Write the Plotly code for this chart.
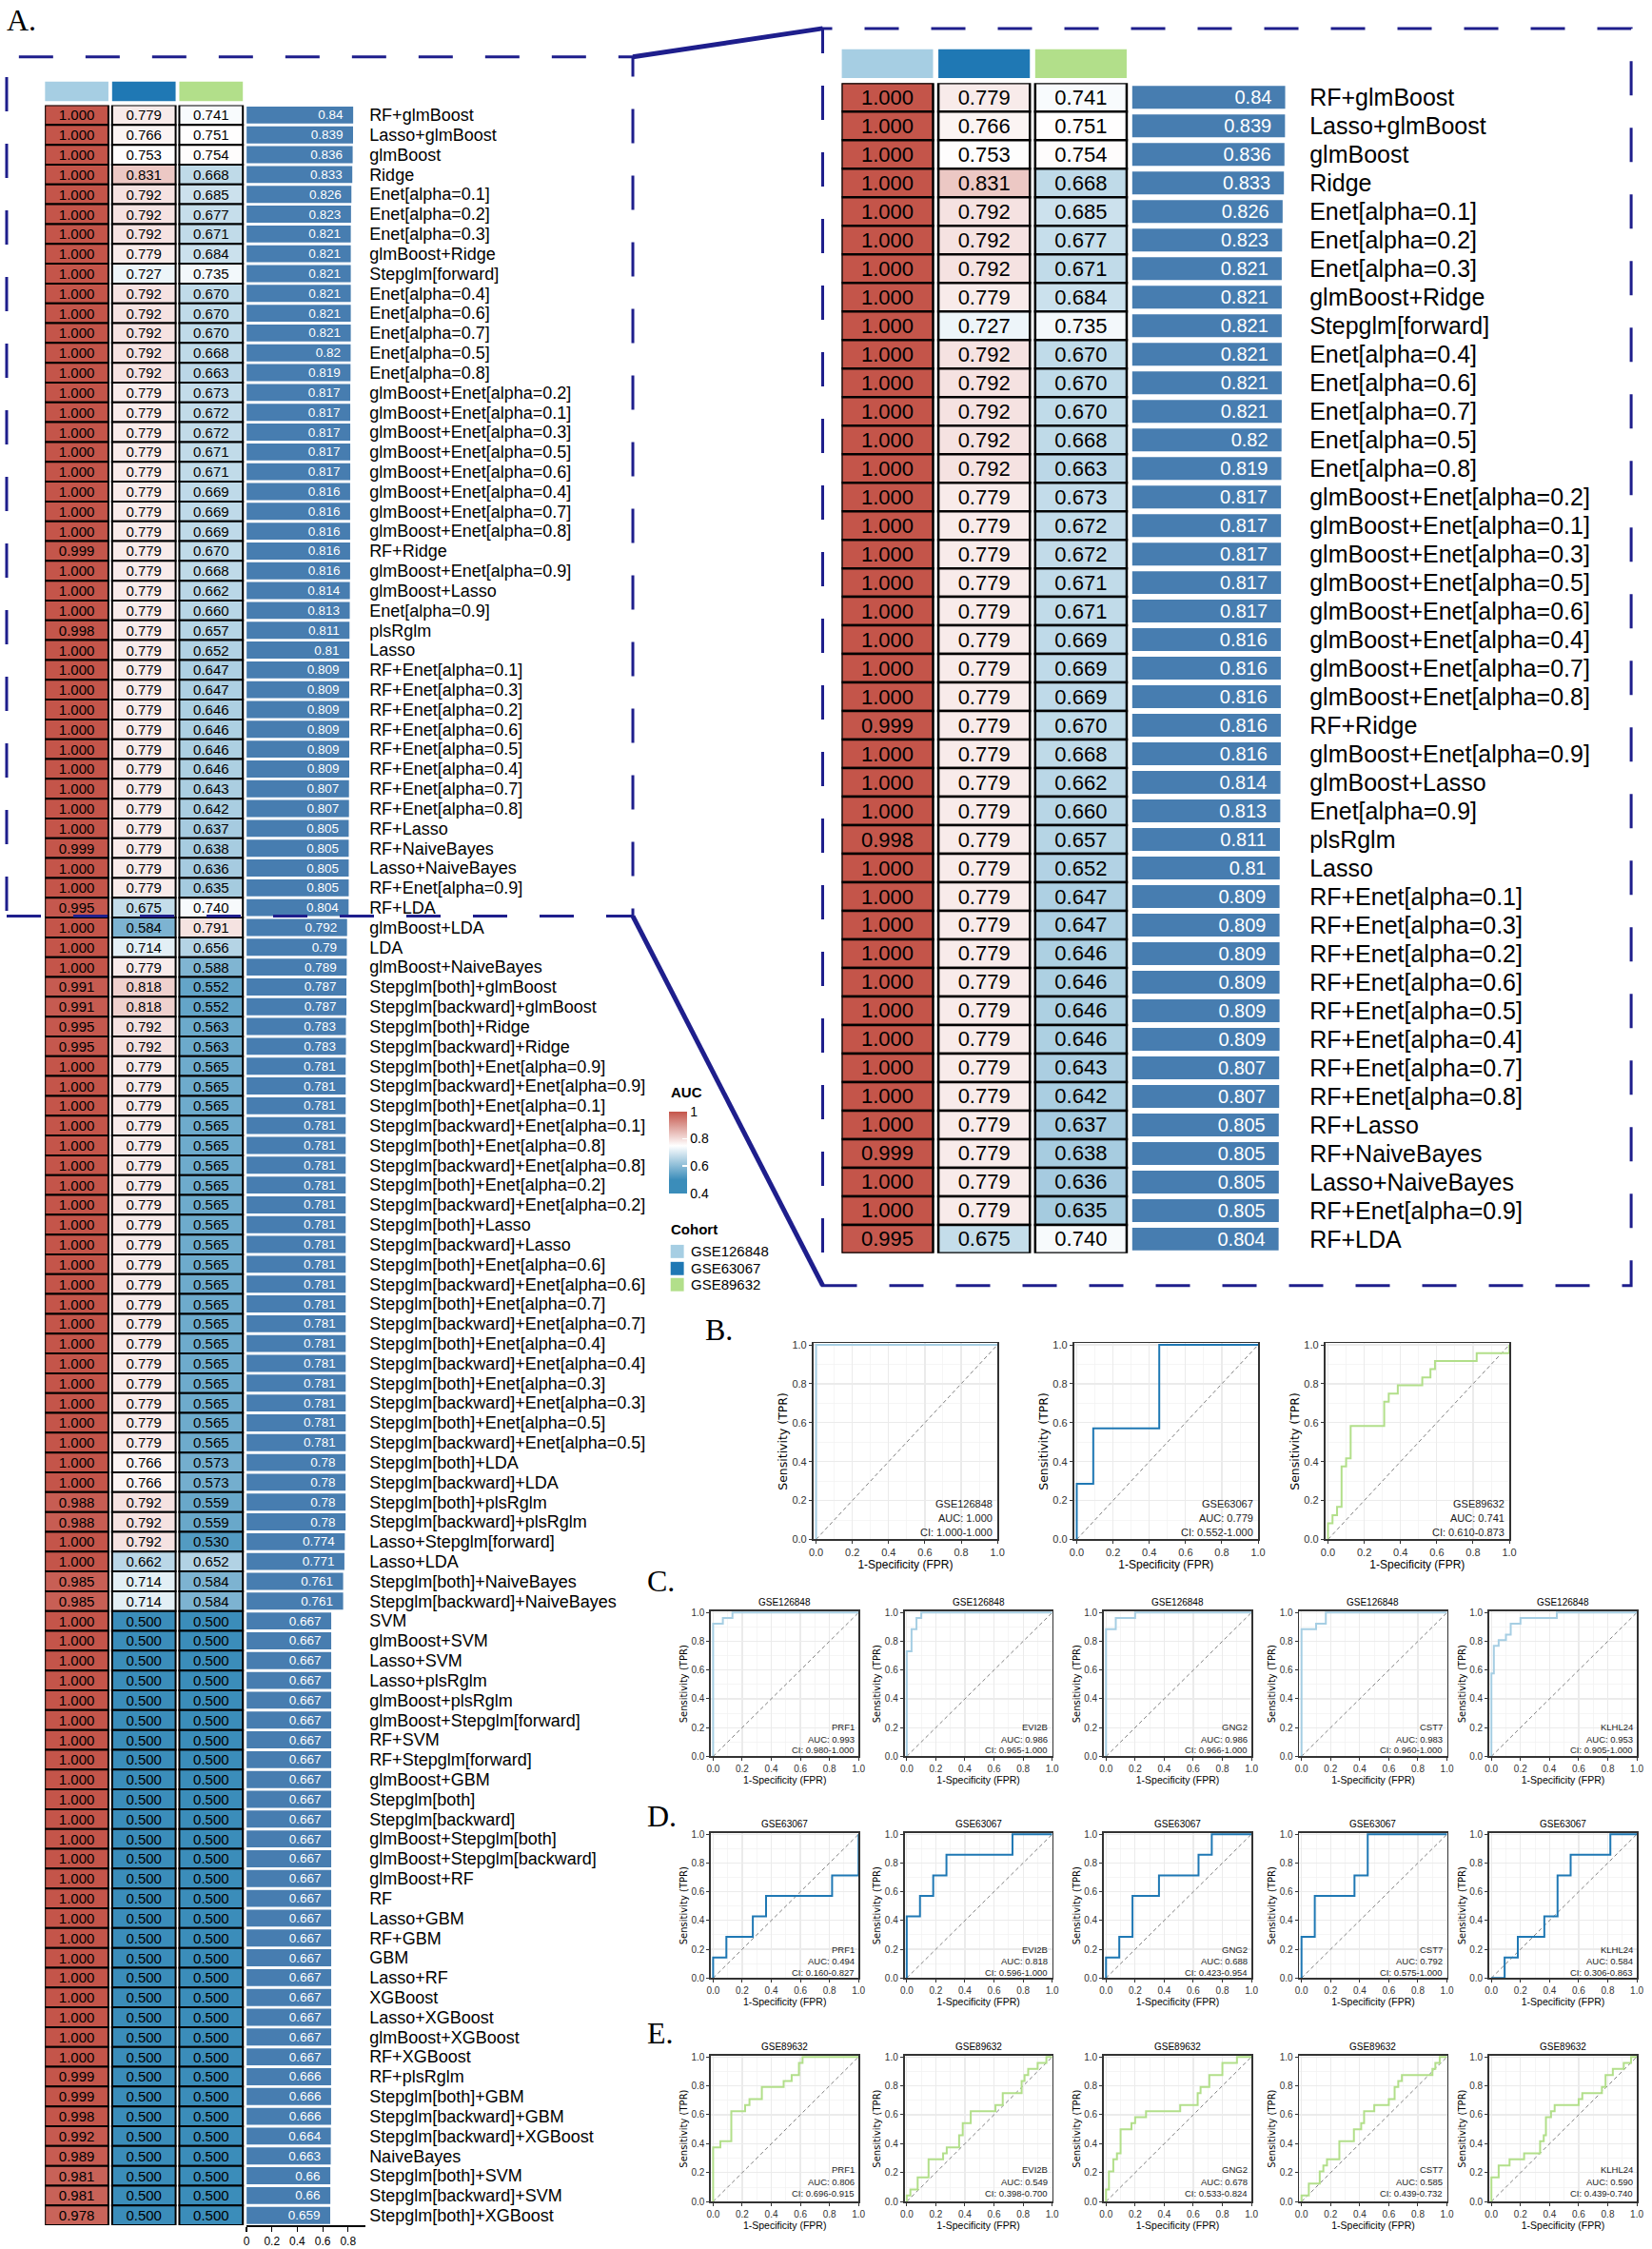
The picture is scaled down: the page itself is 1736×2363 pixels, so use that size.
import plotly.graph_objects as go

W, H = 1736, 2363
FONT = "Liberation Sans, Arial, sans-serif"
WIDE = "DejaVu Sans, Verdana, sans-serif"
SERIF = "Liberation Serif, Times New Roman, serif"
NAVY = "#1E1E8C"
BAR_COLOR = "#477DB0"
PAD = "\u00a0\u00a0"

# ---------------- data: heatmap of AUCs ----------------
methods = [
    "RF+glmBoost", "Lasso+glmBoost", "glmBoost", "Ridge", "Enet[alpha=0.1]", "Enet[alpha=0.2]",
    "Enet[alpha=0.3]", "glmBoost+Ridge", "Stepglm[forward]", "Enet[alpha=0.4]", "Enet[alpha=0.6]",
    "Enet[alpha=0.7]", "Enet[alpha=0.5]", "Enet[alpha=0.8]",
    "glmBoost+Enet[alpha=0.2]", "glmBoost+Enet[alpha=0.1]", "glmBoost+Enet[alpha=0.3]",
    "glmBoost+Enet[alpha=0.5]", "glmBoost+Enet[alpha=0.6]", "glmBoost+Enet[alpha=0.4]",
    "glmBoost+Enet[alpha=0.7]", "glmBoost+Enet[alpha=0.8]", "RF+Ridge", "glmBoost+Enet[alpha=0.9]",
    "glmBoost+Lasso", "Enet[alpha=0.9]", "plsRglm", "Lasso",
    "RF+Enet[alpha=0.1]", "RF+Enet[alpha=0.3]", "RF+Enet[alpha=0.2]", "RF+Enet[alpha=0.6]",
    "RF+Enet[alpha=0.5]", "RF+Enet[alpha=0.4]", "RF+Enet[alpha=0.7]", "RF+Enet[alpha=0.8]",
    "RF+Lasso", "RF+NaiveBayes", "Lasso+NaiveBayes", "RF+Enet[alpha=0.9]", "RF+LDA",
    "glmBoost+LDA", "LDA", "glmBoost+NaiveBayes", "Stepglm[both]+glmBoost",
    "Stepglm[backward]+glmBoost", "Stepglm[both]+Ridge", "Stepglm[backward]+Ridge",
    "Stepglm[both]+Enet[alpha=0.9]", "Stepglm[backward]+Enet[alpha=0.9]",
    "Stepglm[both]+Enet[alpha=0.1]", "Stepglm[backward]+Enet[alpha=0.1]",
    "Stepglm[both]+Enet[alpha=0.8]", "Stepglm[backward]+Enet[alpha=0.8]",
    "Stepglm[both]+Enet[alpha=0.2]", "Stepglm[backward]+Enet[alpha=0.2]",
    "Stepglm[both]+Lasso", "Stepglm[backward]+Lasso",
    "Stepglm[both]+Enet[alpha=0.6]", "Stepglm[backward]+Enet[alpha=0.6]",
    "Stepglm[both]+Enet[alpha=0.7]", "Stepglm[backward]+Enet[alpha=0.7]",
    "Stepglm[both]+Enet[alpha=0.4]", "Stepglm[backward]+Enet[alpha=0.4]",
    "Stepglm[both]+Enet[alpha=0.3]", "Stepglm[backward]+Enet[alpha=0.3]",
    "Stepglm[both]+Enet[alpha=0.5]", "Stepglm[backward]+Enet[alpha=0.5]",
    "Stepglm[both]+LDA", "Stepglm[backward]+LDA", "Stepglm[both]+plsRglm",
    "Stepglm[backward]+plsRglm", "Lasso+Stepglm[forward]", "Lasso+LDA",
    "Stepglm[both]+NaiveBayes", "Stepglm[backward]+NaiveBayes",
    "SVM", "glmBoost+SVM", "Lasso+SVM", "Lasso+plsRglm", "glmBoost+plsRglm",
    "glmBoost+Stepglm[forward]", "RF+SVM", "RF+Stepglm[forward]", "glmBoost+GBM",
    "Stepglm[both]", "Stepglm[backward]", "glmBoost+Stepglm[both]", "glmBoost+Stepglm[backward]",
    "glmBoost+RF", "RF", "Lasso+GBM", "RF+GBM", "GBM", "Lasso+RF", "XGBoost", "Lasso+XGBoost",
    "glmBoost+XGBoost", "RF+XGBoost", "RF+plsRglm", "Stepglm[both]+GBM", "Stepglm[backward]+GBM",
    "Stepglm[backward]+XGBoost", "NaiveBayes", "Stepglm[both]+SVM", "Stepglm[backward]+SVM",
    "Stepglm[both]+XGBoost",
]

auc_gse126848 = [
    1.000, 1.000, 1.000, 1.000, 1.000, 1.000, 1.000, 1.000, 1.000, 1.000,
    1.000, 1.000, 1.000, 1.000, 1.000, 1.000, 1.000, 1.000, 1.000, 1.000,
    1.000, 1.000, 0.999, 1.000, 1.000, 1.000, 0.998, 1.000, 1.000, 1.000,
    1.000, 1.000, 1.000, 1.000, 1.000, 1.000, 1.000, 0.999, 1.000, 1.000,
    0.995, 1.000, 1.000, 1.000, 0.991, 0.991, 0.995, 0.995, 1.000, 1.000,
    1.000, 1.000, 1.000, 1.000, 1.000, 1.000, 1.000, 1.000, 1.000, 1.000,
    1.000, 1.000, 1.000, 1.000, 1.000, 1.000, 1.000, 1.000, 1.000, 1.000,
    0.988, 0.988, 1.000, 1.000, 0.985, 0.985, 1.000, 1.000, 1.000, 1.000,
    1.000, 1.000, 1.000, 1.000, 1.000, 1.000, 1.000, 1.000, 1.000, 1.000,
    1.000, 1.000, 1.000, 1.000, 1.000, 1.000, 1.000, 1.000, 1.000, 0.999,
    0.999, 0.998, 0.992, 0.989, 0.981, 0.981, 0.978,
]

auc_gse63067 = [
    0.779, 0.766, 0.753, 0.831, 0.792, 0.792, 0.792, 0.779, 0.727, 0.792,
    0.792, 0.792, 0.792, 0.792, 0.779, 0.779, 0.779, 0.779, 0.779, 0.779,
    0.779, 0.779, 0.779, 0.779, 0.779, 0.779, 0.779, 0.779, 0.779, 0.779,
    0.779, 0.779, 0.779, 0.779, 0.779, 0.779, 0.779, 0.779, 0.779, 0.779,
    0.675, 0.584, 0.714, 0.779, 0.818, 0.818, 0.792, 0.792, 0.779, 0.779,
    0.779, 0.779, 0.779, 0.779, 0.779, 0.779, 0.779, 0.779, 0.779, 0.779,
    0.779, 0.779, 0.779, 0.779, 0.779, 0.779, 0.779, 0.779, 0.766, 0.766,
    0.792, 0.792, 0.792, 0.662, 0.714, 0.714, 0.500, 0.500, 0.500, 0.500,
    0.500, 0.500, 0.500, 0.500, 0.500, 0.500, 0.500, 0.500, 0.500, 0.500,
    0.500, 0.500, 0.500, 0.500, 0.500, 0.500, 0.500, 0.500, 0.500, 0.500,
    0.500, 0.500, 0.500, 0.500, 0.500, 0.500, 0.500,
]

auc_gse89632 = [
    0.741, 0.751, 0.754, 0.668, 0.685, 0.677, 0.671, 0.684, 0.735, 0.670,
    0.670, 0.670, 0.668, 0.663, 0.673, 0.672, 0.672, 0.671, 0.671, 0.669,
    0.669, 0.669, 0.670, 0.668, 0.662, 0.660, 0.657, 0.652, 0.647, 0.647,
    0.646, 0.646, 0.646, 0.646, 0.643, 0.642, 0.637, 0.638, 0.636, 0.635,
    0.740, 0.791, 0.656, 0.588, 0.552, 0.552, 0.563, 0.563, 0.565, 0.565,
    0.565, 0.565, 0.565, 0.565, 0.565, 0.565, 0.565, 0.565, 0.565, 0.565,
    0.565, 0.565, 0.565, 0.565, 0.565, 0.565, 0.565, 0.565, 0.573, 0.573,
    0.559, 0.559, 0.530, 0.652, 0.584, 0.584, 0.500, 0.500, 0.500, 0.500,
    0.500, 0.500, 0.500, 0.500, 0.500, 0.500, 0.500, 0.500, 0.500, 0.500,
    0.500, 0.500, 0.500, 0.500, 0.500, 0.500, 0.500, 0.500, 0.500, 0.500,
    0.500, 0.500, 0.500, 0.500, 0.500, 0.500, 0.500,
]

mean_auc = [
    0.84, 0.839, 0.836, 0.833, 0.826, 0.823, 0.821, 0.821, 0.821, 0.821,
    0.821, 0.821, 0.82, 0.819, 0.817, 0.817, 0.817, 0.817, 0.817, 0.816,
    0.816, 0.816, 0.816, 0.816, 0.814, 0.813, 0.811, 0.81, 0.809, 0.809,
    0.809, 0.809, 0.809, 0.809, 0.807, 0.807, 0.805, 0.805, 0.805, 0.805,
    0.804, 0.792, 0.79, 0.789, 0.787, 0.787, 0.783, 0.783, 0.781, 0.781,
    0.781, 0.781, 0.781, 0.781, 0.781, 0.781, 0.781, 0.781, 0.781, 0.781,
    0.781, 0.781, 0.781, 0.781, 0.781, 0.781, 0.781, 0.781, 0.78, 0.78,
    0.78, 0.78, 0.774, 0.771, 0.761, 0.761, 0.667, 0.667, 0.667, 0.667,
    0.667, 0.667, 0.667, 0.667, 0.667, 0.667, 0.667, 0.667, 0.667, 0.667,
    0.667, 0.667, 0.667, 0.667, 0.667, 0.667, 0.667, 0.667, 0.667, 0.666,
    0.666, 0.666, 0.664, 0.663, 0.66, 0.66, 0.659,
]

cohort_names = ["GSE126848", "GSE63067", "GSE89632"]
cohort_colors = ["#A6CEE3", "#1F78B4", "#B2DF8A"]
n_zoom_rows = 41

# ---------------- data: ROC curves (corner points, step 'hv') ----------------
b1_fpr = [0, 0, 1]
b1_tpr = [0, 1, 1]
b2_fpr = [0, 0, 0.091, 0.455, 1]
b2_tpr = [0, 0.286, 0.571, 1, 1]
b3_fpr = [0, 0, 0.025, 0.05, 0.075, 0.1, 0.125, 0.31, 0.335, 0.385, 0.52, 0.565, 0.59, 0.82, 1]
b3_tpr = [0, 0.083, 0.125, 0.167, 0.375, 0.417, 0.583, 0.708, 0.75, 0.792, 0.833, 0.875, 0.917, 0.958, 1]

c1_fpr = [0, 0, 0.067, 0.133, 1]
c1_tpr = [0, 0.923, 0.962, 1, 1]
c2_fpr = [0, 0, 0.033, 0.067, 0.1, 1]
c2_tpr = [0, 0.731, 0.885, 0.962, 1, 1]
c3_fpr = [0, 0, 0.067, 0.2, 1]
c3_tpr = [0, 0.885, 0.962, 1, 1]
c4_fpr = [0, 0, 0.1, 0.167, 1]
c4_tpr = [0, 0.885, 0.923, 1, 1]
c5_fpr = [0, 0, 0.017, 0.05, 0.1, 0.133, 0.2, 0.45, 1]
c5_tpr = [0, 0.577, 0.769, 0.808, 0.846, 0.923, 0.962, 1, 1]

d1_fpr = [0, 0, 0.091, 0.273, 0.364, 0.818, 1]
d1_tpr = [0, 0.143, 0.286, 0.429, 0.571, 0.714, 1]
d2_fpr = [0, 0, 0.091, 0.182, 0.273, 0.727, 1]
d2_tpr = [0, 0.429, 0.571, 0.714, 0.857, 1, 1]
d3_fpr = [0, 0, 0.091, 0.182, 0.364, 0.636, 0.727, 1]
d3_tpr = [0, 0.143, 0.286, 0.571, 0.714, 0.857, 1, 1]
d4_fpr = [0, 0, 0.091, 0.364, 0.455, 1]
d4_tpr = [0, 0.286, 0.571, 0.714, 1, 1]
d5_fpr = [0, 0.091, 0.182, 0.364, 0.455, 0.545, 0.818, 1]
d5_tpr = [0, 0.143, 0.286, 0.429, 0.714, 0.857, 1, 1]

e1_fpr = [0, 0, 0.05, 0.125, 0.22, 0.25, 0.335, 0.485, 0.54, 0.59, 0.615, 1]
e1_tpr = [0, 0.375, 0.417, 0.625, 0.667, 0.708, 0.792, 0.833, 0.875, 0.958, 1, 1]
e2_fpr = [0, 0, 0.025, 0.075, 0.15, 0.25, 0.275, 0.36, 0.385, 0.44, 0.61, 0.66, 0.79, 0.81, 0.835, 0.9, 0.96, 1]
e2_tpr = [0, 0.042, 0.083, 0.167, 0.292, 0.333, 0.375, 0.458, 0.542, 0.625, 0.667, 0.75, 0.833, 0.875, 0.917, 0.958, 1, 1]
e3_fpr = [0, 0, 0.02, 0.05, 0.075, 0.1, 0.175, 0.2, 0.275, 0.51, 0.63, 0.65, 0.71, 0.8, 0.9, 1]
e3_tpr = [0, 0.083, 0.208, 0.292, 0.333, 0.5, 0.542, 0.583, 0.625, 0.667, 0.75, 0.792, 0.875, 0.958, 1, 1]
e4_fpr = [0, 0, 0.05, 0.125, 0.15, 0.175, 0.26, 0.36, 0.41, 0.43, 0.5, 0.6, 0.64, 0.665, 0.69, 0.9, 0.92, 0.95, 1]
e4_tpr = [0, 0.042, 0.125, 0.208, 0.25, 0.292, 0.417, 0.5, 0.542, 0.625, 0.667, 0.708, 0.792, 0.833, 0.875, 0.917, 0.958, 1, 1]
e5_fpr = [0, 0, 0.05, 0.125, 0.225, 0.335, 0.36, 0.375, 0.41, 0.435, 0.6, 0.625, 0.76, 0.785, 0.835, 0.91, 0.96, 1]
e5_tpr = [0, 0.167, 0.25, 0.292, 0.333, 0.417, 0.458, 0.583, 0.625, 0.667, 0.708, 0.75, 0.792, 0.875, 0.917, 0.958, 1, 1]

b_names = ["GSE126848", "GSE63067", "GSE89632"]
b_auc = ["1.000", "0.779", "0.741"]
b_ci = ["1.000-1.000", "0.552-1.000", "0.610-0.873"]
genes = ["PRF1", "EVI2B", "GNG2", "CST7", "KLHL24"]
c_auc = ["0.993", "0.986", "0.986", "0.983", "0.953"]
c_ci = ["0.980-1.000", "0.965-1.000", "0.966-1.000", "0.960-1.000", "0.905-1.000"]
d_auc = ["0.494", "0.818", "0.688", "0.792", "0.584"]
d_ci = ["0.160-0.827", "0.596-1.000", "0.423-0.954", "0.575-1.000", "0.306-0.863"]
e_auc = ["0.806", "0.549", "0.678", "0.585", "0.590"]
e_ci = ["0.696-0.915", "0.398-0.700", "0.533-0.824", "0.439-0.732", "0.439-0.740"]


# ---------------- helpers ----------------
def X(p):
    return p / W


def Y(p):
    return 1 - p / H


def sfx(n):
    return "" if n == 1 else str(n)


AUC_SCALE = [[0.0, "#3B8DBA"], [(0.5 - 0.4) / 0.6, "#3B8DBA"],
             [(0.75 - 0.4) / 0.6, "#FFFFFF"], [1.0, "#C4554A"]]

fig = go.Figure()
layout = {}
annotations = []
shapes = []

colorbar_cfg = dict(
    x=X(703), xanchor="left", xpad=0, y=Y(1211.5), yanchor="middle", ypad=0,
    lenmode="pixels", len=86, thicknessmode="pixels", thickness=19, outlinewidth=0,
    tickmode="array", tickvals=[0.4, 0.6, 0.8, 1.0], ticktext=["0.4", "0.6", "0.8", "1"],
    ticks="inside", ticklen=5, tickwidth=1.5, tickcolor="white",
    tickfont=dict(family=FONT, size=14, color="black"),
)


def heat_panel(ic, ib, ir, ico, names, cols, means, cx0, cx1, bx1, ry0, ry1, cy0, cy1,
               cell_font, bar_font, label_font, border_w, bar_w, bar_max, show_axis, show_scale):
    xc, xb, yr, yc = "x" + sfx(ic), "x" + sfx(ib), "y" + sfx(ir), "y" + sfx(ico)
    n = len(names)
    for j in range(3):
        vals = cols[j]
        marker = dict(color=vals, colorscale=AUC_SCALE, cmin=0.4, cmax=1.0,
                      line=dict(color="black", width=border_w))
        if show_scale and j == 0:
            marker["showscale"] = True
            marker["colorbar"] = colorbar_cfg
        fig.add_trace(go.Bar(
            y=names, x=[0.945] * n, base=[j] * n, orientation="h", width=1.0,
            marker=marker, text=[f"{v:.3f}" for v in vals],
            textposition="inside", insidetextanchor="middle", textangle=0, constraintext="none",
            textfont=dict(family=FONT, size=cell_font, color="black"),
            xaxis=xc, yaxis=yr, hoverinfo="skip", showlegend=False))
        fig.add_trace(go.Bar(
            y=["cohort"], x=[0.945], base=[j], orientation="h", width=1.0,
            marker=dict(color=cohort_colors[j], line=dict(width=0)),
            xaxis=xc, yaxis=yc, hoverinfo="skip", showlegend=False))
    fig.add_trace(go.Bar(
        y=names, x=means, orientation="h", width=bar_w,
        marker=dict(color=BAR_COLOR, line=dict(width=0)),
        text=[f"{v:g}" + PAD for v in means], textposition="inside", insidetextanchor="end",
        textangle=0, constraintext="none",
        textfont=dict(family=FONT, size=bar_font, color="white"),
        xaxis=xb, yaxis=yr, hoverinfo="skip", showlegend=False))

    layout["xaxis" + sfx(ic)] = dict(domain=[X(cx0), X(cx1)], range=[0, 3], visible=False,
                                      anchor=yr, fixedrange=True)
    xb_cfg = dict(domain=[X(cx1), X(bx1)], range=[0, bar_max], anchor=yr, showgrid=False,
                  zeroline=False, fixedrange=True)
    if show_axis:
        xb_cfg.update(showline=True, linecolor="black", linewidth=1.5, ticks="outside",
                      ticklen=5, tickwidth=1.2, tickcolor="black",
                      tickmode="array", tickvals=[0, 0.2, 0.4, 0.6, 0.8],
                      ticktext=["0", "0.2", "0.4", "0.6", "0.8"],
                      tickfont=dict(family=FONT, size=12, color="black"))
    else:
        xb_cfg.update(visible=False)
    layout["xaxis" + sfx(ib)] = xb_cfg
    layout["yaxis" + sfx(ir)] = dict(
        domain=[Y(ry1), Y(ry0)], type="category", categoryorder="array", categoryarray=names,
        range=[n - 0.5, -0.5], anchor=xb, side="right", showgrid=False, zeroline=False,
        showline=False, ticks="", tickmode="linear", tick0=0, dtick=1, ticklabelstandoff=3,
        tickfont=dict(family=FONT, size=label_font, color="black"), fixedrange=True)
    layout["yaxis" + sfx(ico)] = dict(domain=[Y(cy1), Y(cy0)], type="category",
                                       range=[-0.5, 0.5], visible=False, anchor=xc,
                                       fixedrange=True)


# left full panel
heat_panel(1, 2, 1, 2, methods, [auc_gse126848, auc_gse63067, auc_gse89632], mean_auc,
           42.5, 256, 382, 106, 2344, 81, 102,
           cell_font=15, bar_font=13.5, label_font=18, border_w=2, bar_w=0.86,
           bar_max=0.9375, show_axis=True, show_scale=True)

# right zoomed panel
heat_panel(3, 4, 3, 4, methods[:n_zoom_rows],
           [auc_gse126848[:n_zoom_rows], auc_gse63067[:n_zoom_rows], auc_gse89632[:n_zoom_rows]],
           mean_auc[:n_zoom_rows],
           886, 1193.5, 1377.5, 82.7, 1318, 46.7, 77.3,
           cell_font=22, bar_font=20, label_font=25, border_w=2.5, bar_w=0.8,
           bar_max=0.953, show_axis=False, show_scale=False)


# ---------------- ROC panels ----------------
def roc_panel(k, x0, width, top, bottom, fpr, tpr, color, lines, ann_y, title,
              tick_size, title_size, ytitle_size, ann_size):
    xa, ya = "x" + str(k), "y" + str(k)
    fig.add_trace(go.Scatter(x=[0, 1], y=[0, 1], mode="lines",
                             line=dict(color="#7F7F7F", width=1, dash="4px,3px"),
                             xaxis=xa, yaxis=ya, hoverinfo="skip", showlegend=False))
    fig.add_trace(go.Scatter(x=fpr, y=tpr, mode="lines",
                             line=dict(color=color, width=2, shape="hv"),
                             xaxis=xa, yaxis=ya, hoverinfo="skip", showlegend=False))
    common = dict(showgrid=True, gridcolor="#EBEBEB", gridwidth=1.2,
                  minor=dict(dtick=0.1, tick0=0, showgrid=True, gridcolor="#F3F3F3", gridwidth=0.8),
                  tick0=0, dtick=0.2, tickformat=".1f", zeroline=False, showline=True, mirror=True,
                  linecolor="#333333", linewidth=1.8, ticks="outside", ticklen=3, tickwidth=1,
                  tickcolor="#333333", tickfont=dict(family=FONT, size=tick_size, color="#333333"),
                  fixedrange=True)
    layout["xaxis" + str(k)] = dict(domain=[X(x0 - 0.015 * width), X(x0 + width)],
                                    range=[-0.015, 1.0], anchor=ya,
                                    title=dict(text="1-Specificity (FPR)", standoff=2,
                                               font=dict(family=FONT, size=title_size, color="black")),
                                    **common)
    layout["yaxis" + str(k)] = dict(domain=[Y(bottom), Y(top)], range=[0, 1.008], anchor=xa,
                                    title=dict(text="Sensitivity (TPR)", standoff=2,
                                               font=dict(family=WIDE, size=ytitle_size, color="black")),
                                    **common)
    for txt, yy in zip(lines, ann_y):
        annotations.append(dict(x=0.985, y=yy, xref=xa, yref=ya, text=txt, showarrow=False,
                                xanchor="right", yanchor="middle",
                                font=dict(family=FONT, size=ann_size, color="#222222")))
    if title:
        annotations.append(dict(x=0.5, y=1, xref=xa + " domain", yref=ya + " domain", text=title,
                                showarrow=False, xanchor="center", yanchor="bottom", yshift=2,
                                font=dict(family=FONT, size=ann_size + 0.5, color="black")))


roc_b = [(b1_fpr, b1_tpr), (b2_fpr, b2_tpr), (b3_fpr, b3_tpr)]
roc_c = [(c1_fpr, c1_tpr), (c2_fpr, c2_tpr), (c3_fpr, c3_tpr), (c4_fpr, c4_tpr), (c5_fpr, c5_tpr)]
roc_d = [(d1_fpr, d1_tpr), (d2_fpr, d2_tpr), (d3_fpr, d3_tpr), (d4_fpr, d4_tpr), (d5_fpr, d5_tpr)]
roc_e = [(e1_fpr, e1_tpr), (e2_fpr, e2_tpr), (e3_fpr, e3_tpr), (e4_fpr, e4_tpr), (e5_fpr, e5_tpr)]

k = 5
b_x0 = [859, 1135, 1401]
for i, (f, t) in enumerate(roc_b):
    roc_panel(k, b_x0[i], 192, 1413, 1620, f, t, cohort_colors[i],
              [b_names[i], "AUC: " + b_auc[i], "CI: " + b_ci[i]], [0.184, 0.111, 0.038],
              None, tick_size=11, title_size=12, ytitle_size=12.5, ann_size=11)
    k += 1

small_x0 = [750, 955, 1166, 1373, 1574]
rows = [
    (roc_c, c_auc, c_ci, 1696, 1849, cohort_colors[0], "GSE126848", [0.205, 0.118, 0.044]),
    (roc_d, d_auc, d_ci, 1930, 2083, cohort_colors[1], "GSE63067", [0.2, 0.119, 0.037]),
    (roc_e, e_auc, e_ci, 2165, 2319, cohort_colors[2], "GSE89632", [0.222, 0.136, 0.055]),
]
for curves, aucs, cis, top, bottom, col, ttl, ay in rows:
    for i, (f, t) in enumerate(curves):
        roc_panel(k, small_x0[i], 154, top, bottom, f, t, col,
                  [genes[i], "AUC: " + aucs[i], "CI: " + cis[i]], ay, ttl,
                  tick_size=10, title_size=10.5, ytitle_size=10, ann_size=9.5)
        k += 1

# ---------------- legends ----------------
annotations.append(dict(x=X(703), y=Y(1148), xref="paper", yref="paper", text="<b>AUC</b>",
                        showarrow=False, xanchor="left", yanchor="middle",
                        font=dict(family=FONT, size=15, color="black")))
annotations.append(dict(x=X(703), y=Y(1293), xref="paper", yref="paper", text="<b>Cohort</b>",
                        showarrow=False, xanchor="left", yanchor="middle",
                        font=dict(family=FONT, size=15, color="black")))
leg_y = [1316, 1334, 1351]
for i, name in enumerate(cohort_names):
    shapes.append(dict(type="rect", xref="paper", yref="paper", x0=X(705), x1=X(719),
                       y0=Y(leg_y[i] + 7), y1=Y(leg_y[i] - 7),
                       fillcolor=cohort_colors[i], line=dict(width=0)))
    annotations.append(dict(x=X(724), y=Y(leg_y[i]), xref="paper", yref="paper", text=name,
                            showarrow=False, xanchor="left", yanchor="middle",
                            font=dict(family=FONT, size=15, color="black")))

# ---------------- zoom boxes & connectors ----------------
shapes.append(dict(type="rect", xref="paper", yref="paper", x0=X(2), x1=X(665), y0=Y(962), y1=Y(55),
                   line=dict(color=NAVY, width=3, dash="36px,34px"), fillcolor="rgba(0,0,0,0)"))
shapes.append(dict(type="rect", xref="paper", yref="paper", x0=X(866), x1=X(1722), y0=Y(1352), y1=Y(25),
                   line=dict(color=NAVY, width=3, dash="36px,34px"), fillcolor="rgba(0,0,0,0)"))
shapes.append(dict(type="line", xref="paper", yref="paper", x0=X(665), y0=Y(55), x1=X(866), y1=Y(25),
                   line=dict(color=NAVY, width=5)))
shapes.append(dict(type="line", xref="paper", yref="paper", x0=X(665), y0=Y(962), x1=X(866), y1=Y(1352),
                   line=dict(color=NAVY, width=5)))

# ---------------- panel letters ----------------
for letter, lx, ly in [("A.", 0, 16), ("B.", 740, 1399), ("C.", 678, 1664), ("D.", 678, 1912), ("E.", 678, 2141)]:
    annotations.append(dict(x=X(lx), y=Y(ly), xref="paper", yref="paper", text=letter,
                            showarrow=False, xanchor="left", yanchor="middle",
                            font=dict(family=SERIF, size=32, color="black")))

fig.update_layout(
    autosize=True, margin=dict(l=0, r=0, t=0, b=0),
    paper_bgcolor="white", plot_bgcolor="white", barmode="overlay", showlegend=False,
    font=dict(family=FONT, color="black"),
    annotations=annotations, shapes=shapes, **layout)

fig.write_html(
    "out.html",
    default_width="100vw", default_height="100vh",
    config={"displayModeBar": False, "staticPlot": True, "responsive": True},
    post_script=("document.documentElement.style.margin='0px';"
                 "document.documentElement.style.overflow='hidden';"
                 "document.body.style.margin='0px';document.body.style.padding='0px';"
                 "document.body.style.overflow='hidden';"),
)
